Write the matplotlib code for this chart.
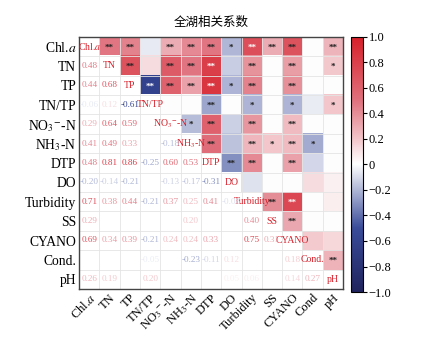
import numpy as np
import matplotlib
matplotlib.use("Agg")
import matplotlib.pyplot as plt
from matplotlib.colors import LinearSegmentedColormap

plt.rcParams['font.family'] = ['Liberation Serif', 'DejaVu Serif']
plt.rcParams['mathtext.fontset'] = 'stix'

# variable names
y_labels = [r'Chl.$\it{a}$', 'TN', 'TP', 'TN/TP', r'NO$_3$$^{-}$-N', r'NH$_3$-N',
            'DTP', 'DO', 'Turbidity', 'SS', 'CYANO', 'Cond.', 'pH']
x_labels = [r'Chl.$\it{a}$', 'TN', 'TP', 'TN/TP', r'NO$_3$$^{-}$-N', r'NH$_3$-N',
            'DTP', 'DO', 'Turbidity', 'SS', 'CYANO', 'Cond', 'pH']
diag_labels = [r'Chl.$\it{a}$', 'TN', 'TP', 'TN/TP', r'NO$_3$$^{-}$-N', r'NH$_3$-N',
               'DTP', 'DO', 'Turbidity', 'SS', 'CYANO', 'Cond.', 'pH']

# lower triangle of the correlation matrix (None = not shown)
lower_rows = [
    [],
    [0.48],
    [0.44, 0.68],
    [-0.06, 0.12, -0.61],
    [0.29, 0.64, 0.59, None],
    [0.41, 0.49, 0.33, None, -0.18],
    [0.48, 0.81, 0.86, -0.25, 0.60, 0.53],
    [-0.20, -0.14, -0.21, None, -0.13, -0.17, -0.31],
    [0.71, 0.38, 0.44, -0.21, 0.37, 0.25, 0.41, -0.08],
    [0.29, None, None, None, None, 0.20, None, None, 0.40],
    [0.69, 0.34, 0.39, -0.21, 0.24, 0.24, 0.33, None, 0.75, 0.31],
    [None, None, None, -0.05, None, -0.23, -0.11, 0.12, None, None, 0.18],
    [0.26, 0.19, None, 0.20, None, None, None, 0.05, 0.06, None, 0.14, 0.27],
]

# significance marks for the upper triangle, row i, columns i+1 ..
star_rows = [
    ["**", "**", "", "**", "**", "**", "*", "**", "**", "**", "", "**"],
    ["**", "", "**", "**", "**", "", "**", "", "**", "", "*"],
    ["**", "**", "**", "**", "*", "**", "", "**", "", ""],
    ["", "", "**", "", "*", "", "*", "", "*"],
    ["*", "**", "", "**", "", "**", "", ""],
    ["**", "", "**", "*", "**", "*", ""],
    ["**", "**", "", "**", "", ""],
    ["", "", "", "", ""],
    ["**", "**", "", ""],
    ["**", "", ""],
    ["", ""],
    ["**"],
    [],
]

n = len(y_labels)
R = np.full((n, n), np.nan)
for i, row in enumerate(lower_rows):
    for j, v in enumerate(row):
        if v is not None:
            R[i, j] = v
            R[j, i] = v

cmap = LinearSegmentedColormap.from_list(
    'rb', [(0.0, '#20245e'), (0.25, '#3a4c9a'), (0.5, '#ffffff'),
           (0.75, '#e0727e'), (1.0, '#d7202a')])

fig = plt.figure(figsize=(4.37, 3.38), dpi=100)
ax = fig.add_axes([0.181, 0.145, 0.604, 0.746])
cax = fig.add_axes([0.803, 0.136, 0.028, 0.755])

upper = np.full((n, n), np.nan)
for i in range(n):
    for j in range(i + 1, n):
        upper[i, j] = 0.0 if np.isnan(R[i, j]) else R[i, j]
im = ax.imshow(upper, cmap=cmap, vmin=-1, vmax=1, aspect='auto',
               interpolation='nearest')

ax.set_xlim(-0.5, n - 0.5)
ax.set_ylim(n - 0.5, -0.5)
ax.set_xticks(np.arange(n + 1) - 0.5, minor=True)
ax.set_yticks(np.arange(n + 1) - 0.5, minor=True)
ax.grid(which='minor', color='#e4e4e4', lw=0.6)
ax.tick_params(which='minor', length=0)
ax.tick_params(which='major', length=0, pad=2)

ax.set_xticks(np.arange(n))
ax.set_yticks(np.arange(n))
ax.set_yticklabels(y_labels, fontsize=9.8)
ax.set_xticklabels(x_labels, fontsize=9, rotation=45, ha='right',
                   rotation_mode='anchor')
for s in ax.spines.values():
    s.set_color('#444444')
    s.set_linewidth(1.0)

red = cmap(1.0)
for i in range(n):
    ax.text(i, i, diag_labels[i], ha='center', va='center', fontsize=7,
            color=red)
    for j in range(i):
        v = R[i, j]
        if not np.isnan(v):
            ax.text(j, i, f"{v:.2f}", ha='center', va='center',
                    fontsize=6.6, color=cmap((v + 1) / 2))
    for k, st in enumerate(star_rows[i]):
        j = i + 1 + k
        if st:
            v = upper[i, j]
            c = 'white' if (v > 0.7 or v < -0.5) else '#222222'
            ax.text(j, i + 0.05, st, ha='center', va='center', fontsize=6.5,
                    color=c, fontweight='bold')

cb = fig.colorbar(im, cax=cax)
ticks = np.round(np.arange(-1.0, 1.01, 0.2), 1)
cb.set_ticks(ticks)
cb.set_ticklabels([("0" if abs(t) < 1e-9 else f"{t:.1f}".replace('-', '\u2212'))
                   for t in ticks])
cb.ax.tick_params(labelsize=9, length=3, pad=1)
cb.outline.set_linewidth(0.8)

fig.text(0.483, 0.935, '全湖相关系数', ha='center', va='center', fontsize=9,
         family=['Noto Sans CJK SC', 'DejaVu Sans'])

fig.savefig('out.png', dpi=100)
